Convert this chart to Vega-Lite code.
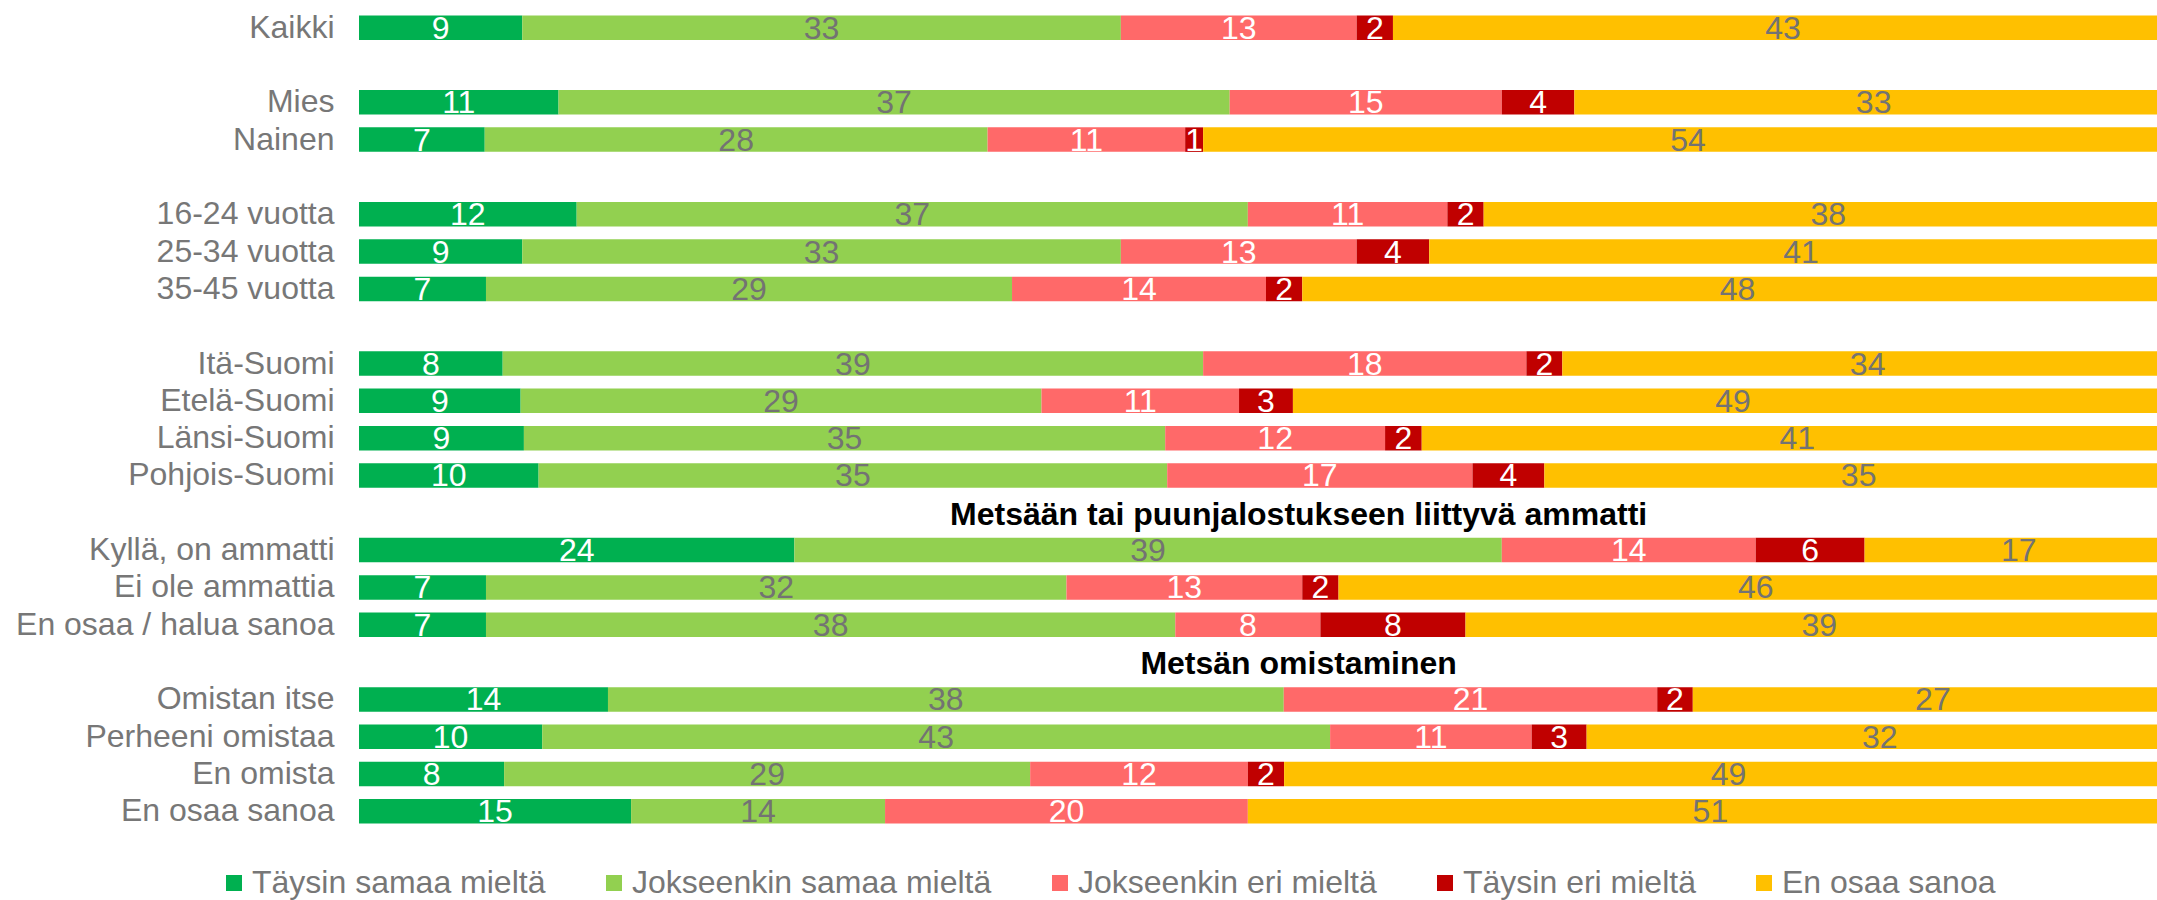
{
  "$schema": "https://vega.github.io/schema/vega-lite/v6.json",
  "width": 1798,
  "height": 821,
  "autosize": {"type": "none"},
  "padding": {"left": 359, "top": 9, "right": 0, "bottom": 70},
  "background": "white",
  "config": {
    "view": {"stroke": null},
    "font": "Liberation Sans"
  },
  "data": {
    "values": [
      {"row": "Kaikki", "cat": "Täysin samaa mieltä", "k": 1, "v": 9},
      {"row": "Kaikki", "cat": "Jokseenkin samaa mieltä", "k": 2, "v": 33},
      {"row": "Kaikki", "cat": "Jokseenkin eri mieltä", "k": 3, "v": 13},
      {"row": "Kaikki", "cat": "Täysin eri mieltä", "k": 4, "v": 2},
      {"row": "Kaikki", "cat": "En osaa sanoa", "k": 5, "v": 43},
      {"row": "Mies", "cat": "Täysin samaa mieltä", "k": 1, "v": 11},
      {"row": "Mies", "cat": "Jokseenkin samaa mieltä", "k": 2, "v": 37},
      {"row": "Mies", "cat": "Jokseenkin eri mieltä", "k": 3, "v": 15},
      {"row": "Mies", "cat": "Täysin eri mieltä", "k": 4, "v": 4},
      {"row": "Mies", "cat": "En osaa sanoa", "k": 5, "v": 33},
      {"row": "Nainen", "cat": "Täysin samaa mieltä", "k": 1, "v": 7},
      {"row": "Nainen", "cat": "Jokseenkin samaa mieltä", "k": 2, "v": 28},
      {"row": "Nainen", "cat": "Jokseenkin eri mieltä", "k": 3, "v": 11},
      {"row": "Nainen", "cat": "Täysin eri mieltä", "k": 4, "v": 1},
      {"row": "Nainen", "cat": "En osaa sanoa", "k": 5, "v": 54},
      {"row": "16-24 vuotta", "cat": "Täysin samaa mieltä", "k": 1, "v": 12},
      {"row": "16-24 vuotta", "cat": "Jokseenkin samaa mieltä", "k": 2, "v": 37},
      {"row": "16-24 vuotta", "cat": "Jokseenkin eri mieltä", "k": 3, "v": 11},
      {"row": "16-24 vuotta", "cat": "Täysin eri mieltä", "k": 4, "v": 2},
      {"row": "16-24 vuotta", "cat": "En osaa sanoa", "k": 5, "v": 38},
      {"row": "25-34 vuotta", "cat": "Täysin samaa mieltä", "k": 1, "v": 9},
      {"row": "25-34 vuotta", "cat": "Jokseenkin samaa mieltä", "k": 2, "v": 33},
      {"row": "25-34 vuotta", "cat": "Jokseenkin eri mieltä", "k": 3, "v": 13},
      {"row": "25-34 vuotta", "cat": "Täysin eri mieltä", "k": 4, "v": 4},
      {"row": "25-34 vuotta", "cat": "En osaa sanoa", "k": 5, "v": 41},
      {"row": "35-45 vuotta", "cat": "Täysin samaa mieltä", "k": 1, "v": 7},
      {"row": "35-45 vuotta", "cat": "Jokseenkin samaa mieltä", "k": 2, "v": 29},
      {"row": "35-45 vuotta", "cat": "Jokseenkin eri mieltä", "k": 3, "v": 14},
      {"row": "35-45 vuotta", "cat": "Täysin eri mieltä", "k": 4, "v": 2},
      {"row": "35-45 vuotta", "cat": "En osaa sanoa", "k": 5, "v": 48},
      {"row": "Itä-Suomi", "cat": "Täysin samaa mieltä", "k": 1, "v": 8},
      {"row": "Itä-Suomi", "cat": "Jokseenkin samaa mieltä", "k": 2, "v": 39},
      {"row": "Itä-Suomi", "cat": "Jokseenkin eri mieltä", "k": 3, "v": 18},
      {"row": "Itä-Suomi", "cat": "Täysin eri mieltä", "k": 4, "v": 2},
      {"row": "Itä-Suomi", "cat": "En osaa sanoa", "k": 5, "v": 34},
      {"row": "Etelä-Suomi", "cat": "Täysin samaa mieltä", "k": 1, "v": 9},
      {"row": "Etelä-Suomi", "cat": "Jokseenkin samaa mieltä", "k": 2, "v": 29},
      {"row": "Etelä-Suomi", "cat": "Jokseenkin eri mieltä", "k": 3, "v": 11},
      {"row": "Etelä-Suomi", "cat": "Täysin eri mieltä", "k": 4, "v": 3},
      {"row": "Etelä-Suomi", "cat": "En osaa sanoa", "k": 5, "v": 49},
      {"row": "Länsi-Suomi", "cat": "Täysin samaa mieltä", "k": 1, "v": 9},
      {"row": "Länsi-Suomi", "cat": "Jokseenkin samaa mieltä", "k": 2, "v": 35},
      {"row": "Länsi-Suomi", "cat": "Jokseenkin eri mieltä", "k": 3, "v": 12},
      {"row": "Länsi-Suomi", "cat": "Täysin eri mieltä", "k": 4, "v": 2},
      {"row": "Länsi-Suomi", "cat": "En osaa sanoa", "k": 5, "v": 41},
      {"row": "Pohjois-Suomi", "cat": "Täysin samaa mieltä", "k": 1, "v": 10},
      {"row": "Pohjois-Suomi", "cat": "Jokseenkin samaa mieltä", "k": 2, "v": 35},
      {"row": "Pohjois-Suomi", "cat": "Jokseenkin eri mieltä", "k": 3, "v": 17},
      {"row": "Pohjois-Suomi", "cat": "Täysin eri mieltä", "k": 4, "v": 4},
      {"row": "Pohjois-Suomi", "cat": "En osaa sanoa", "k": 5, "v": 35},
      {"row": "Kyllä, on ammatti", "cat": "Täysin samaa mieltä", "k": 1, "v": 24},
      {"row": "Kyllä, on ammatti", "cat": "Jokseenkin samaa mieltä", "k": 2, "v": 39},
      {"row": "Kyllä, on ammatti", "cat": "Jokseenkin eri mieltä", "k": 3, "v": 14},
      {"row": "Kyllä, on ammatti", "cat": "Täysin eri mieltä", "k": 4, "v": 6},
      {"row": "Kyllä, on ammatti", "cat": "En osaa sanoa", "k": 5, "v": 17},
      {"row": "Ei ole ammattia", "cat": "Täysin samaa mieltä", "k": 1, "v": 7},
      {"row": "Ei ole ammattia", "cat": "Jokseenkin samaa mieltä", "k": 2, "v": 32},
      {"row": "Ei ole ammattia", "cat": "Jokseenkin eri mieltä", "k": 3, "v": 13},
      {"row": "Ei ole ammattia", "cat": "Täysin eri mieltä", "k": 4, "v": 2},
      {"row": "Ei ole ammattia", "cat": "En osaa sanoa", "k": 5, "v": 46},
      {"row": "En osaa / halua sanoa", "cat": "Täysin samaa mieltä", "k": 1, "v": 7},
      {"row": "En osaa / halua sanoa", "cat": "Jokseenkin samaa mieltä", "k": 2, "v": 38},
      {"row": "En osaa / halua sanoa", "cat": "Jokseenkin eri mieltä", "k": 3, "v": 8},
      {"row": "En osaa / halua sanoa", "cat": "Täysin eri mieltä", "k": 4, "v": 8},
      {"row": "En osaa / halua sanoa", "cat": "En osaa sanoa", "k": 5, "v": 39},
      {"row": "Omistan itse", "cat": "Täysin samaa mieltä", "k": 1, "v": 14},
      {"row": "Omistan itse", "cat": "Jokseenkin samaa mieltä", "k": 2, "v": 38},
      {"row": "Omistan itse", "cat": "Jokseenkin eri mieltä", "k": 3, "v": 21},
      {"row": "Omistan itse", "cat": "Täysin eri mieltä", "k": 4, "v": 2},
      {"row": "Omistan itse", "cat": "En osaa sanoa", "k": 5, "v": 27},
      {"row": "Perheeni omistaa", "cat": "Täysin samaa mieltä", "k": 1, "v": 10},
      {"row": "Perheeni omistaa", "cat": "Jokseenkin samaa mieltä", "k": 2, "v": 43},
      {"row": "Perheeni omistaa", "cat": "Jokseenkin eri mieltä", "k": 3, "v": 11},
      {"row": "Perheeni omistaa", "cat": "Täysin eri mieltä", "k": 4, "v": 3},
      {"row": "Perheeni omistaa", "cat": "En osaa sanoa", "k": 5, "v": 32},
      {"row": "En omista", "cat": "Täysin samaa mieltä", "k": 1, "v": 8},
      {"row": "En omista", "cat": "Jokseenkin samaa mieltä", "k": 2, "v": 29},
      {"row": "En omista", "cat": "Jokseenkin eri mieltä", "k": 3, "v": 12},
      {"row": "En omista", "cat": "Täysin eri mieltä", "k": 4, "v": 2},
      {"row": "En omista", "cat": "En osaa sanoa", "k": 5, "v": 49},
      {"row": "En osaa sanoa", "cat": "Täysin samaa mieltä", "k": 1, "v": 15},
      {"row": "En osaa sanoa", "cat": "Jokseenkin samaa mieltä", "k": 2, "v": 14},
      {"row": "En osaa sanoa", "cat": "Jokseenkin eri mieltä", "k": 3, "v": 20},
      {"row": "En osaa sanoa", "cat": "En osaa sanoa", "k": 5, "v": 51}
    ]
  },
  "layer": [
    {
      "mark": {"type": "bar", "clip": true},
      "encoding": {
        "y": {
          "field": "row",
          "type": "nominal",
          "title": null,
          "scale": {
            "domain": ["Kaikki", "_b1", "Mies", "Nainen", "_b2", "16-24 vuotta", "25-34 vuotta", "35-45 vuotta", "_b3", "Itä-Suomi", "Etelä-Suomi", "Länsi-Suomi", "Pohjois-Suomi", "_h1", "Kyllä, on ammatti", "Ei ole ammattia", "En osaa / halua sanoa", "_h2", "Omistan itse", "Perheeni omistaa", "En omista", "En osaa sanoa"],
            "paddingInner": 0.343,
            "paddingOuter": 0.1715
          },
          "axis": {
            "labelExpr": "indexof(datum.value, '_') === 0 ? '' : datum.value",
            "ticks": false,
            "domain": false,
            "grid": false,
            "labelFontSize": 32,
            "labelColor": "#777777",
            "labelFont": "Liberation Sans",
            "labelPadding": 25,
            "labelLimit": 500
          }
        },
        "x": {
          "field": "v",
          "type": "quantitative",
          "stack": "normalize",
          "scale": {"domain": [0, 0.9912], "nice": false, "zero": true},
          "axis": null
        },
        "order": {"field": "k", "type": "quantitative"},
        "color": {
          "field": "cat",
          "type": "nominal",
          "scale": {
            "domain": ["Täysin samaa mieltä", "Jokseenkin samaa mieltä", "Jokseenkin eri mieltä", "Täysin eri mieltä", "En osaa sanoa"],
            "range": ["#00B050", "#92D050", "#FF6969", "#C00000", "#FFC000"]
          },
          "legend": {
            "title": null,
            "orient": "none",
            "direction": "horizontal",
            "legendX": -141,
            "legendY": 858,
            "padding": 0,
            "symbolType": "square",
            "symbolSize": 256,
            "symbolStrokeWidth": 0,
            "labelFontSize": 32,
            "labelFont": "Liberation Sans",
            "labelColor": "#777777",
            "labelOffset": 2,
            "labelLimit": 1000,
            "columnPadding": 52
          }
        }
      }
    },
    {
      "mark": {"type": "text", "fontSize": 32, "font": "Liberation Sans", "baseline": "middle", "align": "center", "dy": 1},
      "encoding": {
        "y": {"field": "row", "type": "nominal"},
        "x": {"field": "v", "type": "quantitative", "stack": "normalize", "bandPosition": 0.5},
        "order": {"field": "k", "type": "quantitative"},
        "detail": {"field": "cat", "type": "nominal"},
        "text": {"field": "v", "type": "quantitative"},
        "color": {
          "condition": {"test": "datum.cat === 'Jokseenkin samaa mieltä' || datum.cat === 'En osaa sanoa'", "value": "#737373"},
          "value": "#FFFFFF"
        }
      }
    },
    {
      "data": {
        "values": [
          {"row": "_h1", "pos": 0.518, "t": "Metsään tai puunjalostukseen liittyvä ammatti"},
          {"row": "_h2", "pos": 0.518, "t": "Metsän omistaminen"}
        ]
      },
      "mark": {"type": "text", "fontSize": 32, "fontWeight": "bold", "font": "Liberation Sans", "color": "#000000", "align": "center", "baseline": "middle", "dy": 2},
      "encoding": {
        "y": {"field": "row", "type": "nominal"},
        "x": {"field": "pos", "type": "quantitative"},
        "text": {"field": "t", "type": "nominal"}
      }
    }
  ]
}
